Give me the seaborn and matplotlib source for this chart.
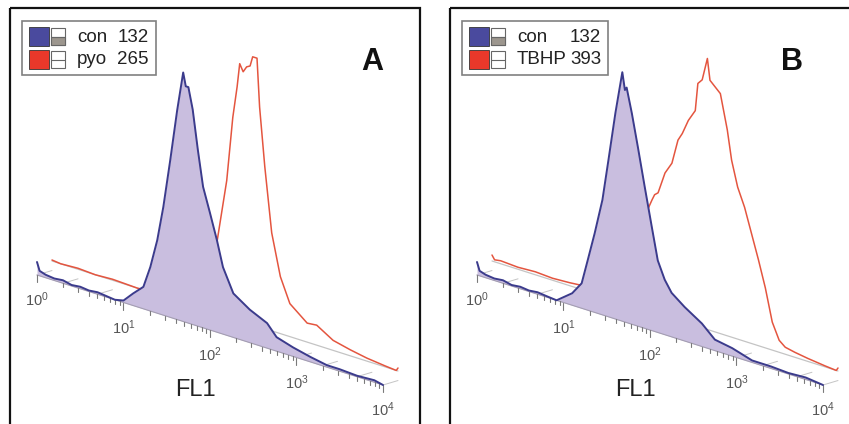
import numpy as np
import matplotlib
matplotlib.use("Agg")
import matplotlib.pyplot as plt
import matplotlib.transforms as mtransforms
from matplotlib.patches import Rectangle
import seaborn as sns

# ---------------- data (log10 FL1 position, relative event count) ----------------
decades = [0, 1, 2, 3, 4]
tick_labels = [r"$\mathregular{10^{%d}}$" % d for d in decades]
axis_label = "FL1"
panel_letters = ["A", "B"]
legend_names_A = ["con", "pyo"]
legend_values_A = ["132", "265"]
legend_names_B = ["con", "TBHP"]
legend_values_B = ["132", "393"]

conA_log = [0, 0.03, 0.1, 0.2, 0.3, 0.4, 0.5, 0.6, 0.7, 0.8, 0.9, 1.0, 1.11, 1.23, 1.31,
            1.39, 1.46, 1.54, 1.62, 1.69, 1.72, 1.75, 1.80, 1.86, 1.92, 2.0, 2.08, 2.15,
            2.27, 2.46, 2.66, 2.77, 2.96, 3.16, 3.35, 3.5, 3.7, 3.9, 4.0]
conA_cnt = [13, 5, 3, 2, 3, 1, 2, 1, 2, 1, 0, 2, 12, 22, 44,
            73, 108, 157, 209, 249, 236, 236, 215, 176, 141, 117, 92, 67,
            44, 33, 25, 14, 9, 5, 2, 2, 1, 2, 0]

pyo_log = [0, 0.1, 0.3, 0.5, 0.7, 0.99, 1.2, 1.4, 1.6, 1.75, 1.85, 1.91, 2.02, 2.09,
           2.14, 2.17, 2.21, 2.25, 2.29, 2.32, 2.37, 2.40, 2.46, 2.54, 2.64, 2.75, 2.95,
           3.06, 3.25, 3.45, 3.64, 3.85, 3.98, 4.0]
pyo_cnt = [1, 0, 1, 0, 1, 0, 2, 6, 15, 35, 55, 73, 136, 201,
           233, 257, 250, 256, 258, 268, 268, 220, 162, 98, 57, 33, 19,
           20, 10, 6, 3, 1, 0, 3]

conB_log = [0, 0.03, 0.1, 0.2, 0.3, 0.4, 0.5, 0.6, 0.7, 0.8, 0.92, 1.10, 1.21, 1.28,
            1.36, 1.45, 1.52, 1.60, 1.68, 1.71, 1.73, 1.79, 1.86, 1.94, 2.02, 2.09,
            2.17, 2.25, 2.40, 2.60, 2.75, 2.95, 3.18, 3.4, 3.6, 3.8, 4.0]
conB_cnt = [13, 5, 3, 2, 3, 1, 2, 1, 2, 1, 0, 12, 25, 50,
            79, 115, 157, 206, 249, 232, 235, 211, 179, 141, 104, 72,
            55, 44, 34, 23, 11, 8, 2, 2, 1, 2, 0]

tbhp_log = [0, 0.03, 0.1, 0.3, 0.5, 0.7, 0.9, 1.02, 1.2, 1.4, 1.6, 1.75, 1.85, 1.88,
            1.92, 2.0, 2.08, 2.15, 2.2, 2.27, 2.35, 2.38, 2.43, 2.49, 2.52, 2.58, 2.64,
            2.72, 2.77, 2.84, 2.92, 3.0, 3.08, 3.16, 3.24, 3.32, 3.39, 3.5, 3.65, 3.85,
            3.98, 4.0]
tbhp_cnt = [6, 2, 3, 2, 3, 2, 3, 4, 8, 25, 55, 90, 112, 118,
            121, 143, 155, 180, 188, 203, 215, 243, 248, 271, 250, 245, 240,
            206, 177, 152, 134, 110, 86, 60, 28, 12, 7, 5, 3, 1,
            0, 3]

# ---------------- style ----------------
sns.set_theme(style="white")
plt.rcParams["font.family"] = ["Liberation Sans", "DejaVu Sans"]

BLUE_LINE = "#3b3b8c"
FILL = "#c9bedf"
RED_LINE = "#e4553f"
GRID = "#c4c4c4"
TICK = "#7a7a7a"

W, H = 849, 424
fig = plt.figure(figsize=(W / 100, H / 100), dpi=100)
ax = fig.add_axes([0, 0, 1, 1])
ax.set_xlim(0, W)
ax.set_ylim(H, 0)
ax.axis("off")

DX, DY = 86.5, 27.5          # screen step per decade
BACK = (15, -14)             # depth offset of the rear histogram


def draw_panel(px, letter, front, back, names, values, legend_w):
    ox, oy = 37 + px, 275
    Tf = mtransforms.Affine2D.from_values(DX, DY, 0, -1, ox, oy) + ax.transData
    Tb = mtransforms.Affine2D.from_values(DX, DY, 0, -1, ox + BACK[0], oy + BACK[1]) + ax.transData

    # panel frame
    ax.add_patch(Rectangle((10 + px, 8), 410, 440, fill=False, ec="#111111", lw=1.6, zorder=10))

    # rear histogram (red outline)
    sns.lineplot(x=np.array(back[0]), y=np.array(back[1]), ax=ax, color=RED_LINE,
                 lw=1.1, estimator=None, sort=False, transform=Tb, zorder=2)
    # rear baseline and depth connectors
    ax.plot([0, 4], [0, 0], color=GRID, lw=0.9, transform=Tb, zorder=1)
    conn = [np.log10(m) + d for d in range(4) for m in (1, 2, 5)] + [4]
    for c in conn:
        ax.plot([c, c + BACK[0] / DX], [0, -BACK[0] * DY / DX - BACK[1]], color=GRID,
                lw=0.7, transform=Tf, zorder=1)

    # front histogram (filled)
    ax.fill_between(front[0], 0, front[1], color=FILL, lw=0, transform=Tf, zorder=3)
    ax.plot([0, 4], [0, 0], color="#a49eb2", lw=0.8, transform=Tf, zorder=4)
    sns.lineplot(x=np.array(front[0]), y=np.array(front[1]), ax=ax, color=BLUE_LINE,
                 lw=1.4, estimator=None, sort=False, transform=Tf, zorder=5)

    # ticks on front axis
    for d in range(4):
        for m in range(1, 10):
            v = d + np.log10(m)
            L = 7 if m == 1 else 4
            ax.plot([v, v], [0, -L], color=TICK, lw=0.8, transform=Tf, zorder=4)
    ax.plot([4, 4], [0, -7], color=TICK, lw=0.8, transform=Tf, zorder=4)
    for d, lab in zip(decades, tick_labels):
        ax.text(d, -25, lab, transform=Tf, ha="center", va="center", fontsize=10.5,
                color="#555555", zorder=6)
    ax.text(1.83, -65, axis_label, transform=Tf, ha="center", va="center",
            fontsize=17, color="#222222", zorder=6)

    # panel letter
    ax.text(372 + px * 0.955, 62, letter, ha="center", va="center", fontsize=22,
            fontweight="bold", color="#111111", zorder=6)

    # legend box
    lx0 = 22 + px
    ax.add_patch(Rectangle((lx0, 21), legend_w, 54, fill=False, ec="#808080", lw=1.2, zorder=6))
    for i, (nm, val) in enumerate(zip(names, values)):
        y0 = 27 + i * 23
        ax.add_patch(Rectangle((lx0 + 7, y0), 20, 19, fc="#4a4a9e" if i == 0 else "#e8382a",
                               ec="#333333", lw=0.6, zorder=7))
        ax.add_patch(Rectangle((lx0 + 29, y0 + 1), 14, 17, fc="white", ec="#666666",
                               lw=0.8, zorder=7))
        if i == 0:
            ax.add_patch(Rectangle((lx0 + 29, y0 + 9.5), 14, 8.5, fc="#9c968e", ec="#666666",
                                   lw=0.8, zorder=7))
        ax.plot([lx0 + 29, lx0 + 43], [y0 + 9.5, y0 + 9.5], color="#666666", lw=0.8, zorder=8)
        ax.text(lx0 + 55, y0 + 10, nm, ha="left", va="center", fontsize=13.5,
                color="#222222", zorder=8)
        ax.text(lx0 + legend_w - 7, y0 + 10, val, ha="right", va="center", fontsize=13.5,
                color="#222222", zorder=8)


draw_panel(0, panel_letters[0], (conA_log, conA_cnt), (pyo_log, pyo_cnt),
           legend_names_A, legend_values_A, 134)
draw_panel(440, panel_letters[1], (conB_log, conB_cnt), (tbhp_log, tbhp_cnt),
           legend_names_B, legend_values_B, 146)

ax.set_xlim(0, W)
ax.set_ylim(H, 0)
ax.axis("off")
fig.savefig("out.png", dpi=100)
